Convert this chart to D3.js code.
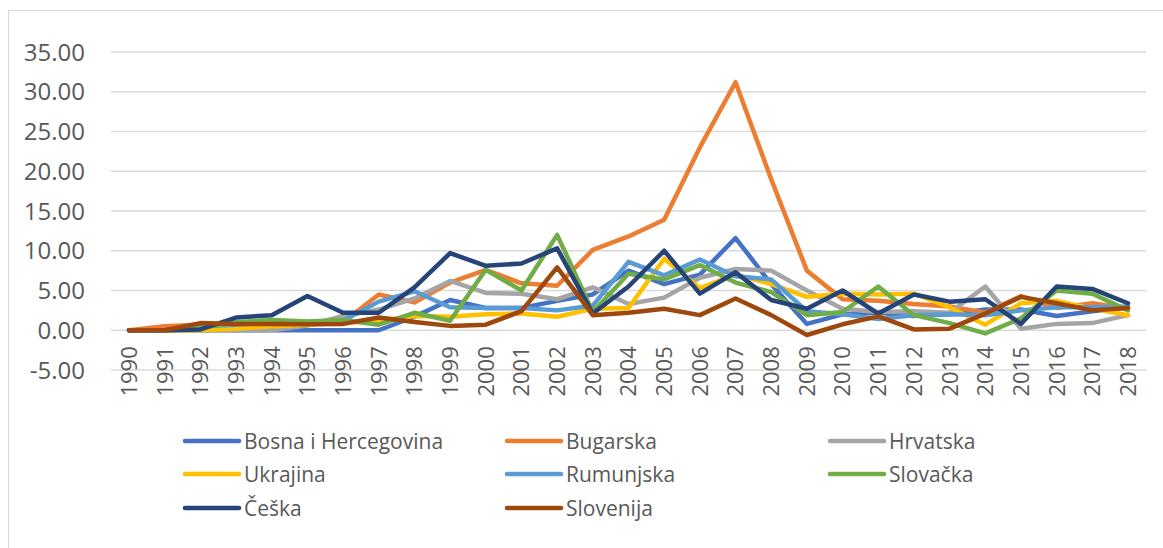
<!DOCTYPE html>
<html>
<head>
<meta charset="utf-8">
<script src="https://cdn.jsdelivr.net/npm/d3@7"></script>
<style>
  body { margin: 0; background: #fff; }
  text { font-family: "Open Sans", "DejaVu Sans", sans-serif; fill: #595959; }
</style>
</head>
<body>
<div id="chart"></div>
<script>
// data
const years = d3.range(1990, 2019).map(String);

const bosna    = [0,0,0,0,0,0,0,0,1.7,3.8,2.8,2.8,3.7,4.5,7.5,5.8,7.0,11.6,5.8,0.8,2.0,2.2,1.8,2.0,2.6,2.6,1.8,2.4,2.9];
const bugarska = [0,0.5,0.7,0.8,0.9,0.9,1.0,4.5,3.5,6.0,7.6,5.9,5.6,10.1,11.8,13.9,23.0,31.2,19.0,7.5,3.9,3.7,3.3,3.0,2.2,4.3,2.8,3.4,2.7];
const hrvatska = [0,0,0,0,0,0.6,1.8,2.6,4.0,6.2,4.7,4.6,3.9,5.4,3.3,4.1,6.6,7.7,7.5,5.0,2.7,2.3,2.4,2.2,5.5,0.2,0.8,0.9,1.9];
const ukrajina = [0,0,0,0.2,0.5,0.7,0.9,1.2,1.8,1.7,2.0,2.1,1.7,2.7,2.8,9.0,5.3,7.0,5.8,4.2,4.6,4.5,4.6,2.9,0.7,3.4,3.7,2.7,1.9];
const rumunjska = [0,0,0.5,0.7,1.0,1.0,1.2,3.6,4.9,2.9,2.8,2.8,2.5,3.1,8.6,6.9,8.9,6.8,6.4,2.4,2.0,1.4,1.9,2.0,1.9,2.5,2.9,2.9,3.0];
const slovacka = [0,0,0.3,1.0,1.3,1.1,1.3,0.7,2.2,1.2,7.6,5.0,12.0,2.3,7.1,6.4,8.2,6.0,4.8,1.9,2.3,5.5,1.9,0.9,-0.4,1.5,5.0,4.6,2.5];
const ceska    = [0,0,0.1,1.6,1.9,4.3,2.2,2.2,5.4,9.7,8.1,8.4,10.3,2.1,5.5,10.0,4.6,7.3,3.8,2.7,5.0,2.1,4.5,3.6,3.9,0.8,5.5,5.2,3.4];
const slovenija = [0,0,0.9,0.8,0.8,0.75,0.8,1.6,1.05,0.55,0.7,2.4,7.9,1.9,2.2,2.7,1.9,4.0,1.9,-0.6,0.75,1.75,0.1,0.2,2.1,4.2,3.4,2.5,2.8];

const seriesNames = ["Bosna i Hercegovina","Bugarska","Hrvatska","Ukrajina","Rumunjska","Slovačka","Češka","Slovenija"];
const seriesValues = [bosna, bugarska, hrvatska, ukrajina, rumunjska, slovacka, ceska, slovenija];
const seriesColors = ["#4472C4","#ED7D31","#A5A5A5","#FFC000","#5B9BD5","#70AD47","#264478","#9E480E"];
const yTicks = [-5,0,5,10,15,20,25,30,35];

const width = 1163, height = 548;

const svg = d3.select("#chart").append("svg")
    .attr("width", width)
    .attr("height", height);

// chart border (runs off the picture on right/bottom)
svg.append("rect")
    .attr("x", 8.5).attr("y", 10.5)
    .attr("width", 1200).attr("height", 600)
    .attr("fill", "none")
    .attr("stroke", "#d9d9d9")
    .attr("stroke-width", 1);

let x = d3.scalePoint()
    .domain(years)
    .range([129, 1128]);

let y = d3.scaleLinear()
    .domain([-5, 35])
    .range([370, 52]);

// excel style number, plain hyphen for negatives
let fmt = d => d3.format(".2f")(d).replace("\u2212", "-");

// gridlines
svg.append("g").selectAll("line")
    .data(yTicks)
    .enter().append("line")
    .attr("x1", 111).attr("x2", 1146)
    .attr("y1", d => y(d)).attr("y2", d => y(d))
    .attr("stroke", "#d9d9d9")
    .attr("stroke-width", 1.5);

// y labels
svg.append("g").selectAll("text")
    .data(yTicks)
    .enter().append("text")
    .attr("x", 85)
    .attr("y", d => y(d))
    .attr("dy", "0.36em")
    .attr("text-anchor", "end")
    .style("font-size", "24px")
    .text(d => fmt(d));

// x labels, next to the 0 line
svg.append("g").selectAll("text")
    .data(years)
    .enter().append("text")
    .attr("transform", d => `translate(${x(d)},${y(0) + 16}) rotate(-90)`)
    .attr("dy", "0.36em")
    .attr("text-anchor", "end")
    .style("font-size", "22px")
    .text(d => d);

// lines
let line = d3.line()
    .x((d, i) => x(years[i]))
    .y(d => y(d));

svg.append("g").selectAll("path")
    .data(seriesValues)
    .enter().append("path")
    .attr("d", d => line(d))
    .attr("fill", "none")
    .attr("stroke", (d, i) => seriesColors[i])
    .attr("stroke-width", 4.5)
    .attr("stroke-linejoin", "round")
    .attr("stroke-linecap", "round");

// legend, 3 columns
let colX = [185, 507, 830], rowY = [441, 474, 508];

let legend_items = svg.append("g").selectAll("g")
    .data(seriesNames)
    .enter().append("g")
    .attr("transform", (d, i) => `translate(${colX[i % 3]},${rowY[Math.floor(i / 3)]})`);

legend_items.append("line")
    .attr("x1", 0).attr("x2", 54)
    .attr("stroke", (d, i) => seriesColors[i])
    .attr("stroke-width", 4.5)
    .attr("stroke-linecap", "round");

legend_items.append("text")
    .attr("x", 59)
    .attr("dy", "0.36em")
    .style("font-size", "21px")
    .text(d => d);
</script>
</body>
</html>
